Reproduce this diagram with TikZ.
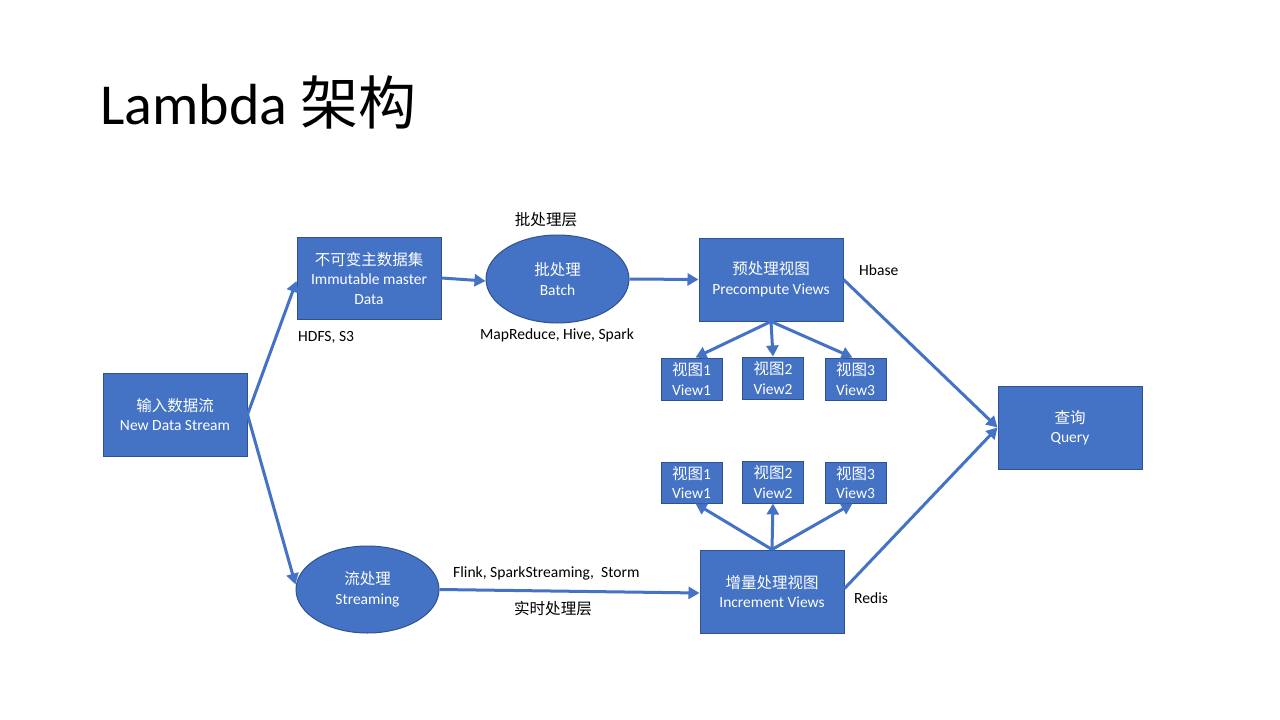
\documentclass[tikz,border=0pt]{standalone}
\usepackage{fontspec}
\setmainfont{Carlito}
\newfontfamily\cjk{Noto Sans CJK SC}
\usetikzlibrary{arrows.meta,shapes.geometric}
\definecolor{boxblue}{HTML}{4472C4}
\definecolor{boxedge}{HTML}{2F528F}
\begin{document}
\begin{tikzpicture}[x=1pt,y=-1pt,
  box/.style={draw=boxedge, line width=1pt, fill=boxblue, text=white, align=center,
    inner sep=0pt, font=\fontsize{15.5}{19.5}\selectfont},
  bigbox/.style={box, minimum width=144pt, minimum height=83pt},
  viewbox/.style={box, minimum width=61pt, minimum height=42pt},
  oval/.style={box, ellipse, minimum width=143pt, minimum height=88pt},
  flow/.style={draw=boxblue, line width=3pt, -{Triangle[length=11pt,width=12pt]}},
  note/.style={font=\fontsize{15.6}{18}\selectfont, text=black, inner sep=0pt}]

\useasboundingbox (0,0) rectangle (1280,720);
\fill[white] (0,0) rectangle (1280,720);

% heading
\node[anchor=base west, inner sep=0pt, font=\fontsize{58}{64}\selectfont] (title) at (100,124)
  {Lambda {\cjk 架构}};

% main blocks
\node[bigbox] (input) at (175,414.5) {{\cjk 输入数据流}\\New Data Stream};
\node[bigbox, minimum height=82pt] (master) at (369,278) {{\cjk 不可变主数据集}\\Immutable master\\Data};
\node[oval] (batch) at (557.5,279) {{\cjk 批处理}\\Batch};
\node[bigbox] (pre) at (771,279.5) {{\cjk 预处理视图}\\Precompute Views};
\node[bigbox] (query) at (1070,427.5) {{\cjk 查询}\\Query};
\node[oval, minimum height=87pt] (stream) at (367.5,589.5) {{\cjk 流处理}\\Streaming};
\node[bigbox] (incr) at (772,591.5) {{\cjk 增量处理视图}\\Increment Views};

% batch views
\node[viewbox] (bv1) at (691.5,379) {{\cjk 视图}1\\View1};
\node[viewbox] (bv2) at (773,378) {{\cjk 视图}2\\View2};
\node[viewbox] (bv3) at (855.5,379) {{\cjk 视图}3\\View3};

% realtime views
\node[viewbox, minimum height=41pt] (rv1) at (691.5,482.5) {{\cjk 视图}1\\View1};
\node[viewbox] (rv2) at (773,482) {{\cjk 视图}2\\View2};
\node[viewbox, minimum height=41pt] (rv3) at (855.5,482.5) {{\cjk 视图}3\\View3};

% labels
\node[note] (lbatch) at (546,220) {\cjk 批处理层};
\node[note, anchor=west] (lhdfs) at (298,337) {HDFS, S3};
\node[note] (lmr) at (557,335) {MapReduce, Hive, Spark};
\node[note, anchor=west] (lhbase) at (859,270) {Hbase};
\node[note, anchor=west] (lflink) at (453,573) {Flink, SparkStreaming,\ \ Storm};
\node[note] (lrt) at (553,609) {\cjk 实时处理层};
\node[note, anchor=west] (lredis) at (854,598) {Redis};

% connectors
\draw[flow] (input.east) -- ([yshift=-3pt]master.west);
\draw[flow] (input.east) -- ([yshift=5pt]stream.west);
\draw[flow] (master.east) -- ([yshift=-2pt]batch.west);
\draw[flow] (batch.east) -- (pre.west);
\draw[flow] (pre.south) -- ([xshift=4pt]bv1.north);
\draw[flow] (pre.south) -- (bv2.north);
\draw[flow] (pre.south) -- ([xshift=-3pt]bv3.north);
\draw[flow] (pre.east) -- (query.west);
\draw[flow] (stream.east) -- ([yshift=-1.5pt]incr.west);
\draw[flow] (incr.north) -- ([xshift=4pt]rv1.south);
\draw[flow] (incr.north) -- (rv2.south);
\draw[flow] (incr.north) -- ([xshift=-3pt]rv3.south);
\draw[flow] ([yshift=3pt]incr.east) -- (query.west);
\end{tikzpicture}
\end{document}
